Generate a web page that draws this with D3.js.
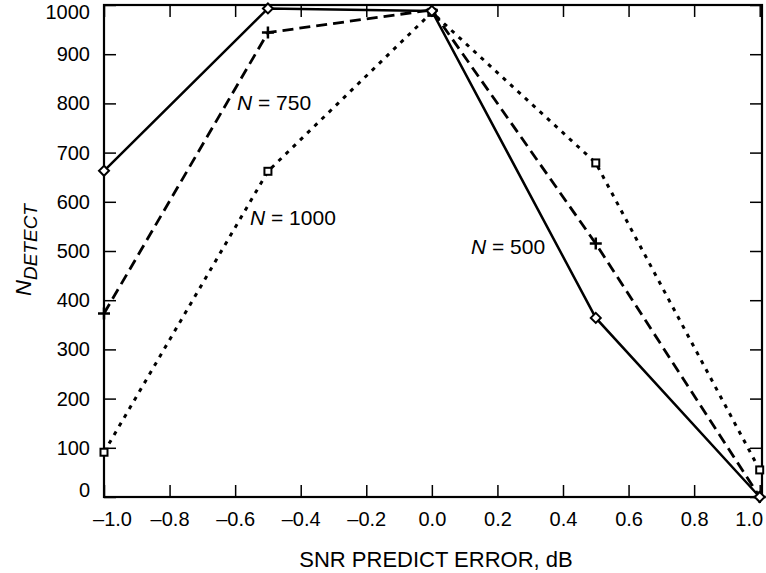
<!DOCTYPE html>
<html>
<head>
<meta charset="utf-8">
<script src="https://cdn.jsdelivr.net/npm/d3@7/dist/d3.min.js"></script>
<style>
  body { margin: 0; background: #fff; }
  svg text { font-family: "Liberation Sans", Arial, sans-serif; fill: #000; }
</style>
</head>
<body>
<div id="frame"></div>
<script>
// data
let errors = [-1.0, -0.5, 0.0, 0.5, 1.0];
let n500 = [663, 993, 988, 364, 0];
let n750 = [373, 944, 990, 515, 0];
let n1000 = [91, 662, 985, 679, 55];
let xTicks = [-1.0, -0.8, -0.6, -0.4, -0.2, 0.0, 0.2, 0.4, 0.6, 0.8, 1.0];
let yTicks = [0, 100, 200, 300, 400, 500, 600, 700, 800, 900, 1000];

let W = 766, H = 573;
let plotL = 104, plotR = 762, plotT = 5, plotB = 497;

let svg = d3.select('#frame').append('svg')
    .attr('width', W).attr('height', H);

let x = d3.scaleLinear().domain([-1, 1.007]).range([plotL, plotR]);
let y = d3.scaleLinear().domain([0, 1000]).range([plotB, plotT]);

let fmt = v => (v < 0 ? '\u2013' : '') + Math.abs(v).toFixed(1);

// axes with inward ticks
let tickLen = 12;
function styleAxis(g) {
    g.select('.domain').remove();
    g.selectAll('line').attr('stroke', '#000').attr('stroke-width', 1.5);
    g.selectAll('text').style('font-size', '20px').style('font-family', '"Liberation Sans", Arial, sans-serif');
}

let xAx = svg.append('g').attr('transform', 'translate(0,' + plotB + ')')
    .call(d3.axisBottom(x).tickValues(xTicks).tickSize(-tickLen).tickPadding(15).tickFormat(fmt))
    .call(styleAxis);
// end labels pulled inward like the original
xAx.selectAll('text').attr('dx', d => d === -1 ? 8 : d === 1 ? -11 : 0);

svg.append('g').attr('transform', 'translate(0,' + plotT + ')')
    .call(d3.axisTop(x).tickValues(xTicks).tickSize(-tickLen).tickFormat(''))
    .call(styleAxis);
svg.append('g').attr('transform', 'translate(' + plotL + ',0)')
    .call(d3.axisLeft(y).tickValues(yTicks).tickSize(-tickLen).tickPadding(14).tickFormat(d3.format('d')))
    .call(styleAxis)
    .selectAll('text').attr('dy', d => d === 0 ? '-0.03em' : d === 1000 ? '0.67em' : '0.32em');
svg.append('g').attr('transform', 'translate(' + plotR + ',0)')
    .call(d3.axisRight(y).tickValues(yTicks).tickSize(-tickLen).tickFormat(''))
    .call(styleAxis);

// frame
svg.append('rect')
    .attr('x', plotL).attr('y', plotT)
    .attr('width', plotR - plotL).attr('height', plotB - plotT)
    .attr('fill', 'none').attr('stroke', '#000').attr('stroke-width', 2.2);

let line = d3.line().x((d, i) => x(errors[i])).y(d => y(d));

let series = [
    { vals: n1000, dash: '4,6', width: 3, mark: 'square' },
    { vals: n750, dash: '11,6', width: 2.8, mark: 'plus' },
    { vals: n500, dash: null, width: 2.5, mark: 'diamond' }
];

series.forEach(s => {
    svg.append('path')
        .attr('d', line(s.vals))
        .attr('fill', 'none')
        .attr('stroke', '#000')
        .attr('stroke-width', s.width)
        .attr('stroke-dasharray', s.dash);

    let g = svg.append('g');
    s.vals.forEach((v, i) => {
        let cx = x(errors[i]), cy = y(v);
        if (s.mark === 'square') {
            g.append('rect').attr('x', cx - 3.5).attr('y', cy - 3.5)
                .attr('width', 7).attr('height', 7)
                .attr('fill', '#fff').attr('stroke', '#000').attr('stroke-width', 2);
        } else if (s.mark === 'plus') {
            g.append('path').attr('d', `M${cx - 6},${cy}H${cx + 6}M${cx},${cy - 6}V${cy + 6}`)
                .attr('stroke', '#000').attr('stroke-width', 2.5);
        } else {
            g.append('path').attr('d', `M${cx},${cy - 5}L${cx + 5},${cy}L${cx},${cy + 5}L${cx - 5},${cy}Z`)
                .attr('fill', '#fff').attr('stroke', '#000').attr('stroke-width', 2);
        }
    });
});

// curve labels
let labels = [
    { n: '750', x: 237, y: 110 },
    { n: '1000', x: 250, y: 225 },
    { n: '500', x: 471, y: 254 }
];
labels.forEach(l => {
    let t = svg.append('text').attr('x', l.x).attr('y', l.y).style('font-size', '21px');
    t.append('tspan').style('font-style', 'italic').text('N');
    t.append('tspan').text(' = ' + l.n);
});

// axis titles
svg.append('text')
    .attr('x', 436).attr('y', 567)
    .attr('text-anchor', 'middle')
    .style('font-size', '22px')
    .text('SNR PREDICT ERROR, dB');

let yl = svg.append('text')
    .attr('transform', 'translate(31,250) rotate(-90)')
    .attr('text-anchor', 'middle')
    .style('font-style', 'italic');
yl.append('tspan').style('font-size', '22px').text('N');
yl.append('tspan').style('font-size', '19px').attr('dy', 6).text('DETECT');
</script>
</body>
</html>
